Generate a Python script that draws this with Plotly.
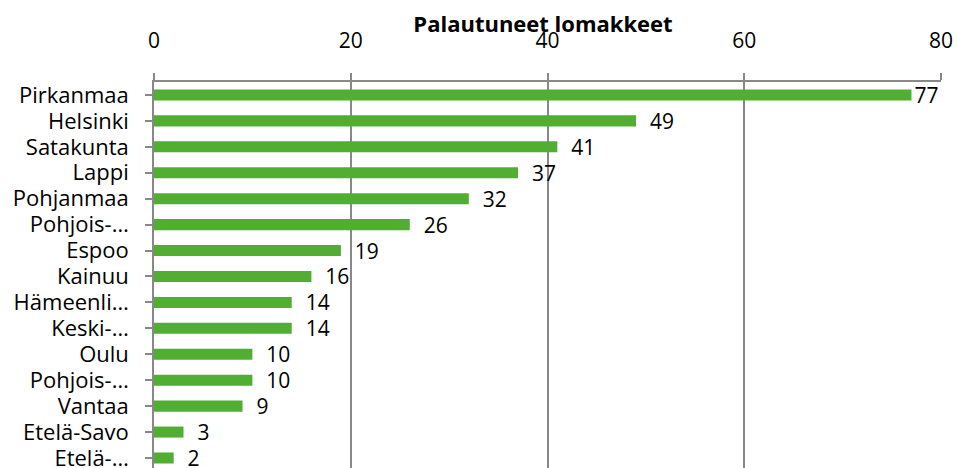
import plotly.graph_objects as go

categories = ["Pirkanmaa", "Helsinki", "Satakunta", "Lappi", "Pohjanmaa", "Pohjois-…",
              "Espoo", "Kainuu", "Hämeenli…", "Keski-…", "Oulu", "Pohjois-…",
              "Vantaa", "Etelä-Savo", "Etelä-…"]
values = [77, 49, 41, 37, 32, 26, 19, 16, 14, 14, 10, 10, 9, 3, 2]
x_ticks = [0, 20, 40, 60, 80]
title = "Palautuneet lomakkeet"

# unique y positions so duplicate labels stay separate
ypos = list(range(len(categories)))

# Excel-like label offset; the longest bar's label is clamped to the plot edge
pad = "\u00a0\u00a0"
labels = [(("" if v == max(values) else pad) + str(v)) for v in values]

W, H = 957, 468
FONT = "Open Sans"
fig = go.Figure(go.Bar(
    x=values, y=ypos, orientation="h",
    marker=dict(color="#52ae32", line=dict(width=0)),
    text=labels, textposition="outside", constraintext="none",
    textfont=dict(family=FONT, size=21, color="#000000"),
    cliponaxis=False,
))
fig.update_layout(
    width=W, height=H,
    margin=dict(l=154, r=16, t=82, b=0, autoexpand=False),
    paper_bgcolor="white", plot_bgcolor="white",
    bargap=0.574,
    showlegend=False,
    title=dict(text="<b>" + title + "</b>", x=543 / W, xanchor="center",
               y=1 - 24 / H, yanchor="middle",
               font=dict(family=FONT, size=22, color="#000000")),
    xaxis=dict(side="top", range=[0, 80], tickvals=x_ticks, showgrid=True,
               gridcolor="#888888", gridwidth=1.6, zeroline=False,
               showline=True, linecolor="#888888", linewidth=1.6,
               ticks="outside", ticklen=7, tickcolor="#888888", tickwidth=1.6,
               tickfont=dict(family=FONT, size=21, color="#000000"),
               ticklabelstandoff=17, ticklabeloverflow="allow",
               automargin=False, fixedrange=True),
    yaxis=dict(range=[14.386, -0.5], tickvals=ypos, ticktext=categories,
               showgrid=False, zeroline=False,
               showline=True, linecolor="#888888", linewidth=1.6,
               ticks="outside", ticklen=7, tickcolor="#888888", tickwidth=1.6,
               tickfont=dict(family=FONT, size=22, color="#000000"),
               ticklabelstandoff=12, ticklabeloverflow="allow",
               automargin=False, fixedrange=True),
)
# remove the default page margin so the 957x468 figure fills the window exactly
fig.write_html("out.html",
               config={"displayModeBar": False},
               post_script="document.body.style.margin='0';"
                           "document.documentElement.style.overflow='hidden';")
